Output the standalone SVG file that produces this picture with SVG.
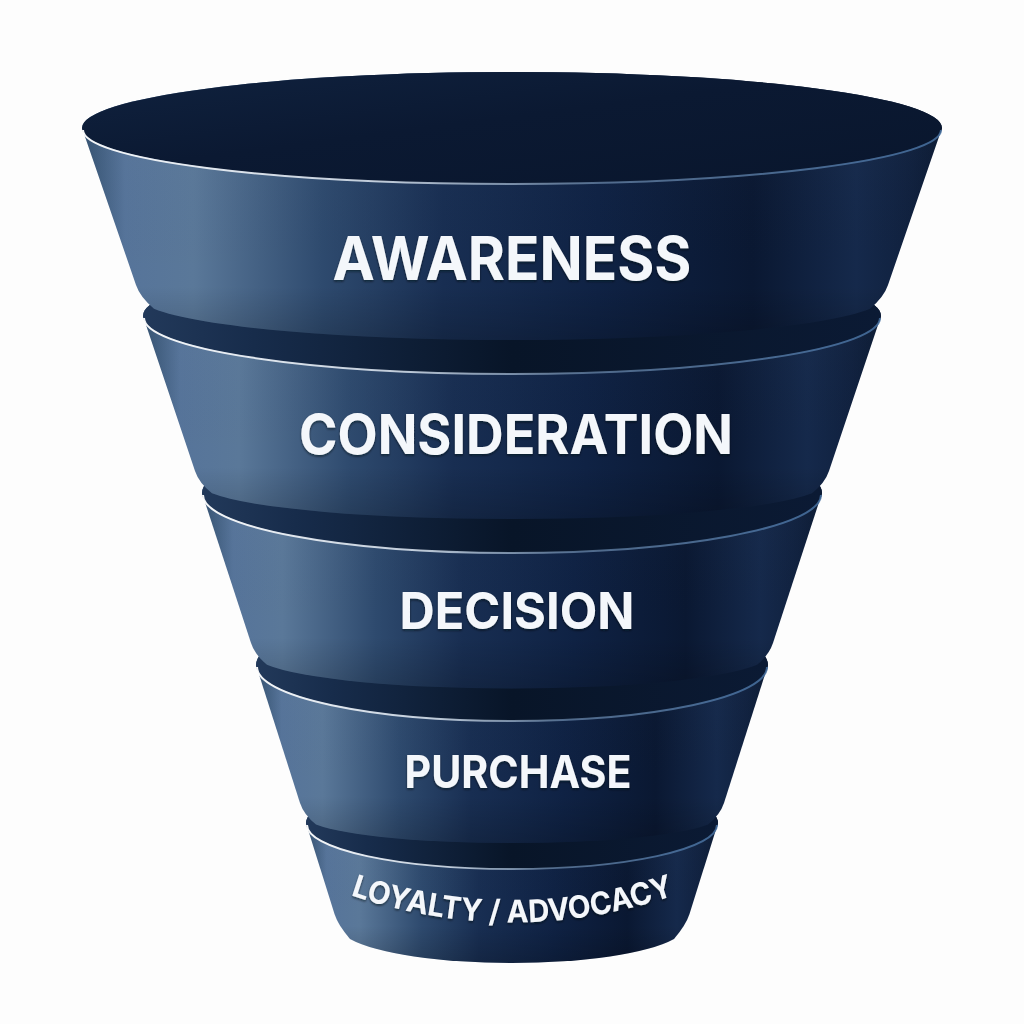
<svg xmlns="http://www.w3.org/2000/svg" width="1024" height="1024" viewBox="0 0 1024 1024">
  <defs>
    <linearGradient id="body" x1="0" y1="0" x2="1" y2="0">
      <stop offset="0" stop-color="#33506f"/>
      <stop offset="0.05" stop-color="#56749a"/>
      <stop offset="0.13" stop-color="#5a7899"/>
      <stop offset="0.28" stop-color="#2e4a6e"/>
      <stop offset="0.42" stop-color="#182e52"/>
      <stop offset="0.6" stop-color="#0f2244"/>
      <stop offset="0.78" stop-color="#0a1832"/>
      <stop offset="0.9" stop-color="#15294b"/>
      <stop offset="0.96" stop-color="#10213f"/>
      <stop offset="1" stop-color="#0b1a33"/>
    </linearGradient>
    <linearGradient id="shade" x1="0" y1="0" x2="0" y2="1">
      <stop offset="0" stop-color="#ffffff" stop-opacity="0.03"/>
      <stop offset="0.8" stop-color="#000000" stop-opacity="0"/>
      <stop offset="1" stop-color="#000000" stop-opacity="0.18"/>
    </linearGradient>
    <linearGradient id="ledge" x1="0" y1="0" x2="1" y2="0">
      <stop offset="0" stop-color="#22395a"/>
      <stop offset="0.15" stop-color="#172c4b"/>
      <stop offset="0.5" stop-color="#081528"/>
      <stop offset="1" stop-color="#0b1a34"/>
    </linearGradient>
    <linearGradient id="inner" x1="0" y1="0" x2="1" y2="1">
      <stop offset="0" stop-color="#10223f"/>
      <stop offset="0.45" stop-color="#0b1932"/>
      <stop offset="1" stop-color="#09162d"/>
    </linearGradient>
    <linearGradient id="hl" x1="0" y1="0" x2="1" y2="0">
      <stop offset="0" stop-color="#ffffff" stop-opacity="0.95"/>
      <stop offset="0.35" stop-color="#dbe5f0" stop-opacity="0.85"/>
      <stop offset="0.6" stop-color="#6f8db0" stop-opacity="0.7"/>
      <stop offset="1" stop-color="#4670a0" stop-opacity="0.85"/>
    </linearGradient>
    <filter id="ts" x="-10%" y="-30%" width="120%" height="160%">
      <feDropShadow dx="0" dy="1.5" stdDeviation="1.2" flood-color="#000814" flood-opacity="0.6"/>
    </filter>
    <path id="arc5" d="M 350 895 Q 512 950 675 895"/>
  </defs>
  <style>
    .body{fill:url(#body)}
    .shade{fill:url(#shade)}
    .ledge{fill:url(#ledge)}
    .hl{fill:none;stroke:url(#hl);stroke-width:2}
    .lbl{fill:#f4f7fb;font-family:Inter,"Liberation Sans",sans-serif;font-weight:700;text-anchor:middle;filter:url(#ts)}
  </style>
  <rect width="1024" height="1024" fill="#fdfdfd"/>

  <g id="loyalty">
    <path class="body" d="M306,823 L334.5,914 Q338,925 350,938.9 A174,38 0 0 0 674,938.9 Q686,925 689.5,914 L718,823 A206,46 0 0 0 306,823 Z"/>
    <path class="shade" d="M306,823 L334.5,914 Q338,925 350,938.9 A174,38 0 0 0 674,938.9 Q686,925 689.5,914 L718,823 A206,46 0 0 0 306,823 Z"/>
    <ellipse class="ledge" cx="512" cy="823" rx="206" ry="46"/>
    <path class="hl" d="M307,825 A205,44 0 0 0 717,825"/>
    <text class="lbl" font-size="31"><textPath href="#arc5" startOffset="50%" textLength="330" lengthAdjust="spacingAndGlyphs">LOYALTY / ADVOCACY</textPath></text>
  </g>

  <g id="purchase">
    <path class="body" d="M256,665 L300,803 Q304,815 316,824.4 A208,28 0 0 0 708,824.4 Q720,815 724,803 L768,665 A256,56 0 0 0 256,665 Z"/>
    <path class="shade" d="M256,665 L300,803 Q304,815 316,824.4 A208,28 0 0 0 708,824.4 Q720,815 724,803 L768,665 A256,56 0 0 0 256,665 Z"/>
    <ellipse class="ledge" cx="512" cy="665" rx="256" ry="56"/>
    <path class="hl" d="M257,667 A255,54 0 0 0 767,667"/>
    <text class="lbl" x="518" y="788" font-size="45" textLength="227" lengthAdjust="spacingAndGlyphs">PURCHASE</text>
  </g>

  <g id="decision">
    <path class="body" d="M202,493 L251,643 Q255,655 267,664.8 A257,34 0 0 0 757,664.8 Q769,655 773,643 L822,493 A310,60 0 0 0 202,493 Z"/>
    <path class="shade" d="M202,493 L251,643 Q255,655 267,664.8 A257,34 0 0 0 757,664.8 Q769,655 773,643 L822,493 A310,60 0 0 0 202,493 Z"/>
    <ellipse class="ledge" cx="512" cy="493" rx="310" ry="60"/>
    <path class="hl" d="M203,495 A309,58 0 0 0 821,495"/>
    <text class="lbl" x="517" y="629" font-size="51" textLength="235" lengthAdjust="spacingAndGlyphs">DECISION</text>
  </g>

  <g id="consideration">
    <path class="body" d="M143,316 L195,471 Q199,483 212,493.3 A313,36 0 0 0 812,493.3 Q825,483 829,471 L881,316 A369,58 0 0 0 143,316 Z"/>
    <path class="shade" d="M143,316 L195,471 Q199,483 212,493.3 A313,36 0 0 0 812,493.3 Q825,483 829,471 L881,316 A369,58 0 0 0 143,316 Z"/>
    <ellipse class="ledge" cx="512" cy="316" rx="369" ry="58"/>
    <path class="hl" d="M144,318 A368,56 0 0 0 880,318"/>
    <text class="lbl" x="516" y="454" font-size="55" textLength="434" lengthAdjust="spacingAndGlyphs">CONSIDERATION</text>
  </g>

  <g id="awareness">
    <path class="body" d="M82,128 L136,285 Q140,297 154,308.7 A372,43 0 0 0 870,308.7 Q884,297 888,285 L942,128 A430,56 0 0 0 82,128 Z"/>
    <path class="shade" d="M82,128 L136,285 Q140,297 154,308.7 A372,43 0 0 0 870,308.7 Q884,297 888,285 L942,128 A430,56 0 0 0 82,128 Z"/>
    <ellipse cx="512" cy="128" rx="430" ry="56" fill="url(#inner)"/>
    <path class="hl" d="M83,130 A429,54 0 0 0 941,130"/>
    <text class="lbl" x="512" y="280" font-size="60" textLength="359" lengthAdjust="spacingAndGlyphs">AWARENESS</text>
  </g>
</svg>
